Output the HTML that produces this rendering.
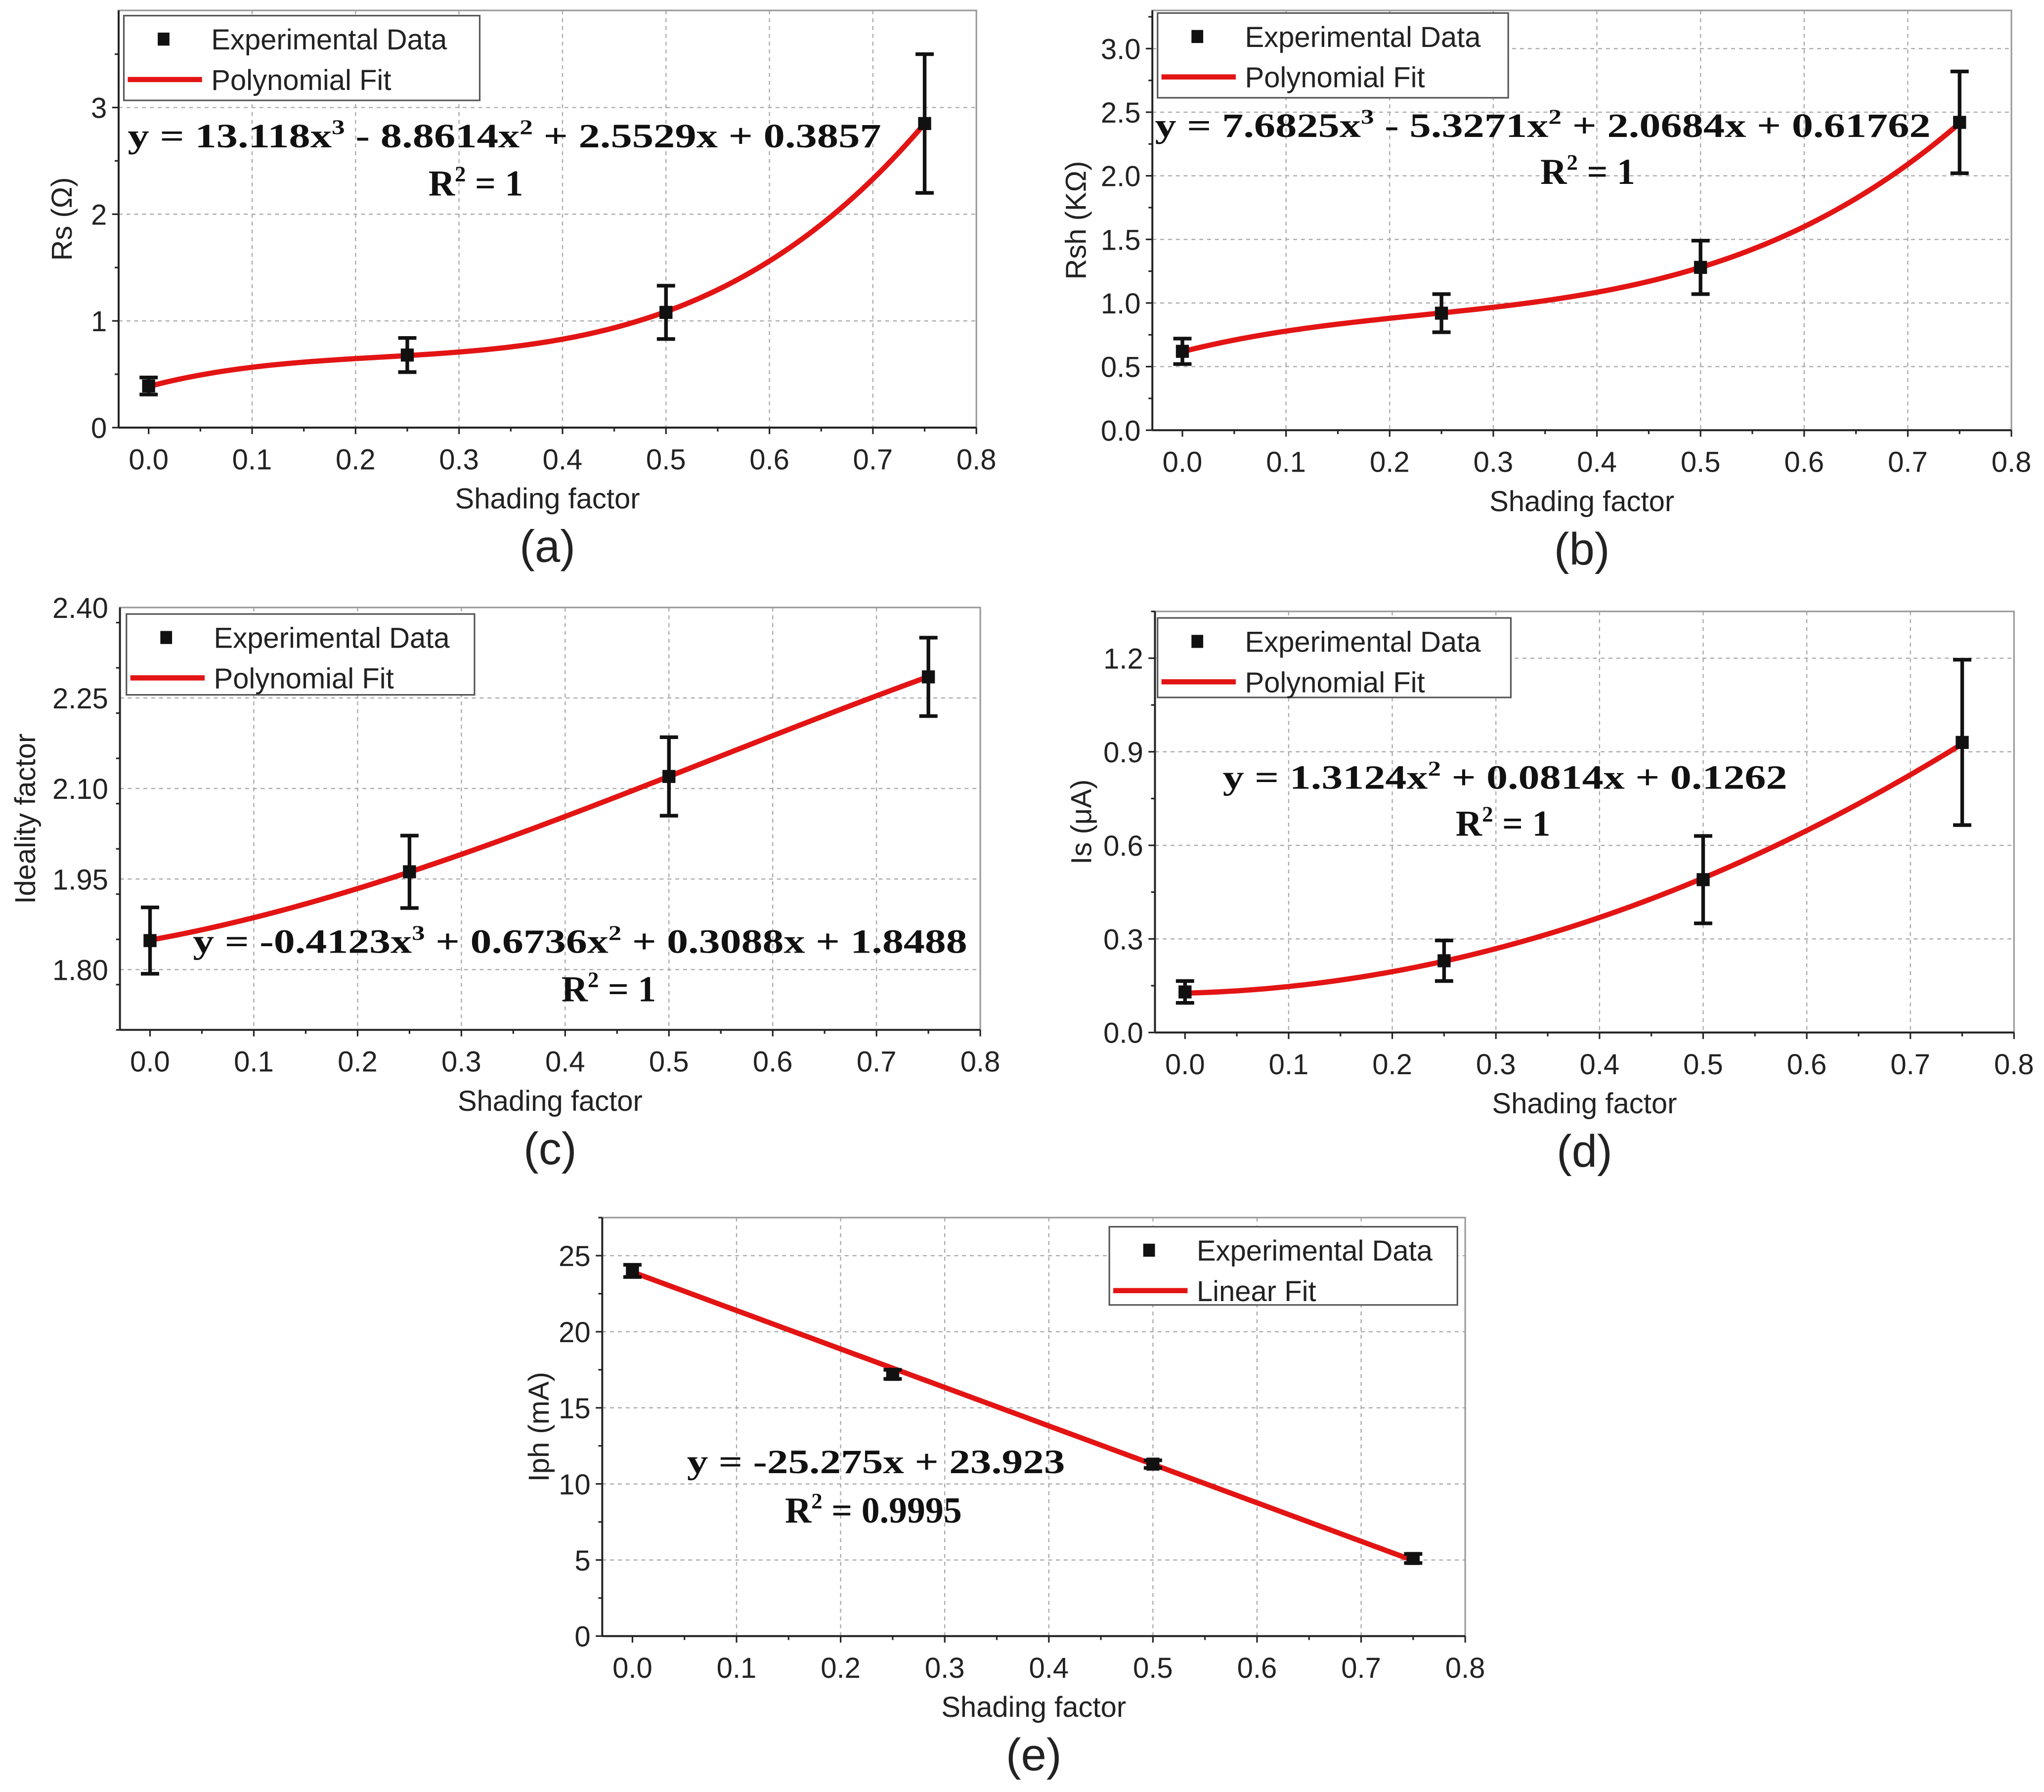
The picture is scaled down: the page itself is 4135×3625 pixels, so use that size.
<!DOCTYPE html>
<html><head><meta charset="utf-8"><style>
html,body{margin:0;padding:0;background:#fff;}
svg{display:block;}
text{font-family:"Liberation Sans",sans-serif;}
.eq{font-family:"Liberation Serif",serif;font-weight:bold;}
</style></head>
<body>
<svg id="fig" width="4135" height="3625" viewBox="0 0 1568 1374.6" preserveAspectRatio="none" xmlns="http://www.w3.org/2000/svg"></svg>
<script>
// ---- data ----
const xVals = [0, 0.25, 0.5, 0.75];
const aY = [0.39, 0.68, 1.08, 2.85];
const aErr = [0.08, 0.16, 0.25, 0.65];
const aCoef = [0.3857, 2.5529, -8.8614, 13.118];
const aTicks = [0, 1, 2, 3];
const bY = [0.62, 0.92, 1.28, 2.42];
const bErr = [0.1, 0.15, 0.21, 0.4];
const bCoef = [0.61762, 2.0684, -5.3271, 7.6825];
const bTicks = [0.0, 0.5, 1.0, 1.5, 2.0, 2.5, 3.0];
const cY = [1.848, 1.962, 2.12, 2.285];
const cErr = [0.055, 0.06, 0.065, 0.065];
const cCoef = [1.8488, 0.3088, 0.6736, -0.4123];
const cTicks = [1.80, 1.95, 2.10, 2.25, 2.40];
const dY = [0.13, 0.23, 0.49, 0.93];
const dErr = [0.035, 0.065, 0.14, 0.265];
const dCoef = [0.1262, 0.0814, 1.3124];
const dTicks = [0.0, 0.3, 0.6, 0.9, 1.2];
const eY = [24.0, 17.2, 11.3, 5.1];
const eErr = [0.4, 0.3, 0.25, 0.3];
const eCoef = [23.923, -25.275];
const eTicks = [0, 5, 10, 15, 20, 25];
const xTicks = [0, 0.1, 0.2, 0.3, 0.4, 0.5, 0.6, 0.7, 0.8];

const NS = "http://www.w3.org/2000/svg";
const svg = document.getElementById('fig');
function mk(tag, attrs, parent, txt){
  const e = document.createElementNS(NS, tag);
  for (const k in attrs) e.setAttribute(k, attrs[k]);
  if (txt !== undefined) e.textContent = txt;
  (parent || svg).appendChild(e);
  return e;
}

const panels = [
 {id:'a', L:91, R:749, T:8, B:328, ymin:0, ymax:3.91, ys:aY, err:aErr, coef:aCoef, ticks:aTicks, dec:0, minor:0.5,
  ytitle:'Rs (Ω)', ytx:48, leg:[95,12,273,65], fitName:'Polynomial Fit',
  eq:['y = 13.118x','3',' - 8.8614x','2',' + 2.5529x + 0.3857'], eqx:98, eqy:113, eqw:578, r2:'1', r2x:365, r2y:150, lbl:'(a)'},
 {id:'b', L:884, R:1543, T:8, B:330, ymin:0, ymax:3.3, ys:bY, err:bErr, coef:bCoef, ticks:bTicks, dec:1, minor:0.25,
  ytitle:'Rsh (KΩ)', ytx:826, leg:[888,10,269,65], fitName:'Polynomial Fit',
  eq:['y = 7.6825x','3',' - 5.3271x','2',' + 2.0684x + 0.61762'], eqx:886, eqy:105, eqw:595, r2:'1', r2x:1218, r2y:141, lbl:'(b)'},
 {id:'c', L:92, R:752, T:466, B:790, ymin:1.70, ymax:2.40, ys:cY, err:cErr, coef:cCoef, ticks:cTicks, dec:2, minor:0.075,
  ytitle:'Ideality factor', ytx:20, leg:[97,471,267,62], fitName:'Polynomial Fit',
  eq:['y = -0.4123x','3',' + 0.6736x','2',' + 0.3088x + 1.8488'], eqx:148, eqy:731, eqw:594, r2:'1', r2x:467, r2y:768, lbl:'(c)'},
 {id:'d', L:886, R:1545, T:469, B:792, ymin:0, ymax:1.35, ys:dY, err:dErr, coef:dCoef, ticks:dTicks, dec:1, minor:0.15,
  ytitle:'Is (μA)', ytx:830, leg:[888,474,271,61], fitName:'Polynomial Fit',
  eq:['y = 1.3124x','2',' + 0.0814x + 0.1262'], eqx:938, eqy:605, eqw:433, r2:'1', r2x:1153, r2y:641, lbl:'(d)'},
 {id:'e', L:462, R:1124, T:934, B:1255, ymin:0, ymax:27.5, ys:eY, err:eErr, coef:eCoef, ticks:eTicks, dec:0, minor:2.5,
  ytitle:'Iph (mA)', ytx:414, leg:[851,941,267,60], fitName:'Linear Fit',
  eq:['y = -25.275x + 23.923'], eqx:527, eqy:1130, eqw:290, r2:'0.9995', r2x:670, r2y:1168, lbl:'(e)'}
];

panels.forEach(p => {
  const g = mk('g', {});
  
  
  const xmin = -0.029, xmax = 0.8;
  const sx = v => p.L + (v - xmin) / (xmax - xmin) * (p.R - p.L);
  const sy = v => p.B - (v - p.ymin) / (p.ymax - p.ymin) * (p.B - p.T);
  xTicks.forEach(t => { if (t > 0 && t < 0.8) { const l = mk('line', {x1:sx(t), x2:sx(t), y1:p.T, y2:p.B, stroke:'#aaa', 'stroke-width':0.9, 'stroke-dasharray':'3,3'}, g);
      } });
  p.ticks.forEach(t => { const yy = sy(t); if (yy > p.T + 1 && yy < p.B - 1) { const l = mk('line', {x1:p.L, x2:p.R, y1:yy, y2:yy, stroke:'#aaa', 'stroke-width':0.9, 'stroke-dasharray':'3,3'}, g);
      } });
  const fr = mk('rect', {x:p.L, y:p.T, width:p.R - p.L, height:p.B - p.T, fill:'none', stroke:'#999', 'stroke-width':1.2}, g);
   
  mk('line', {x1:p.L, x2:p.R, y1:p.B, y2:p.B, stroke:'#222', 'stroke-width':1.5}, g);
  mk('line', {x1:p.L, x2:p.L, y1:p.T, y2:p.B, stroke:'#222', 'stroke-width':1.5}, g);
  for (let i = 0; i <= 16; i++) {
    const v = i * 0.05, xx = sx(v);
    mk('line', {x1:xx, x2:xx, y1:p.B, y2:p.B + (i % 2 ? 3 : 5), stroke:'#222', 'stroke-width':1.2}, g);
  }
  xTicks.forEach(t => {
    const tx = mk('text', {x:sx(t), y:p.B + 32, 'font-size':22, 'text-anchor':'middle', fill:'#222'}, g, t.toFixed(1));
     
  });
  for (let v = p.ymin; v <= p.ymax + 1e-9; v += p.minor) {
    const yy = sy(v);
    if (yy < p.T - 0.5) continue;
    const major = p.ticks.some(t => Math.abs(t - v) < 1e-6);
    mk('line', {x1:p.L - (major ? 5 : 3), x2:p.L, y1:yy, y2:yy, stroke:'#222', 'stroke-width':1.2}, g);
  }
  p.ticks.forEach(t => {
    const tx = mk('text', {x:p.L - 9, y:sy(t) + 8, 'font-size':22, 'text-anchor':'end', fill:'#222'}, g, t.toFixed(p.dec));
     
  });
  const cx = (p.L + p.R) / 2;
  const xt = mk('text', {x:cx, y:p.B + 62, 'font-size':22, 'text-anchor':'middle', fill:'#222'}, g, 'Shading factor');
   
  const cy = (p.T + p.B) / 2;
  const yt = mk('text', {x:p.ytx, y:cy, 'font-size':22, 'text-anchor':'middle', fill:'#222', transform:`rotate(-90 ${p.ytx} ${cy})`, dy:7}, g, p.ytitle);
   
  const pl = mk('text', {x:cx, y:p.B + 103, 'font-size':35, 'text-anchor':'middle', fill:'#222'}, g, p.lbl);
   
  let d = '';
  for (let i = 0; i <= 120; i++) {
    const x = 0.75 * i / 120;
    let y = 0; p.coef.forEach((c, k) => y += c * Math.pow(x, k));
    d += (i ? 'L' : 'M') + sx(x).toFixed(2) + ' ' + sy(y).toFixed(2);
  }
  const fit = mk('path', {d:d, fill:'none', stroke:'#e31414', 'stroke-width':4}, g);
   
  xVals.forEach((x, i) => {
    const y = p.ys[i], e = p.err[i], px = sx(x);
    const eg = mk('g', {stroke:'#111', 'stroke-width':2.8}, g);
     
    mk('line', {x1:px, x2:px, y1:sy(y - e), y2:sy(y + e)}, eg);
    mk('line', {x1:px - 7, x2:px + 7, y1:sy(y - e), y2:sy(y - e)}, eg);
    mk('line', {x1:px - 7, x2:px + 7, y1:sy(y + e), y2:sy(y + e)}, eg);
    const m = mk('rect', {x:px - 5, y:sy(y) - 5, width:10, height:10, fill:'#111'}, g);
     
  });
  const [lx, ly, lw, lh] = p.leg;
  const lg = mk('g', {}, g);
   
  mk('rect', {x:lx, y:ly, width:lw, height:lh, fill:'#fff', stroke:'#555', 'stroke-width':1.2}, lg);
  mk('rect', {x:lx + 26, y:ly + 13, width:9, height:10, fill:'#111'}, lg);
  const l1 = mk('text', {x:lx + 67, y:ly + 26, 'font-size':22, fill:'#222'}, lg, 'Experimental Data');
   
  mk('line', {x1:lx + 3, x2:lx + 60, y1:ly + 49, y2:ly + 49, stroke:'#e31414', 'stroke-width':4}, lg);
  const l2 = mk('text', {x:lx + 67, y:ly + 57, 'font-size':22, fill:'#222'}, lg, p.fitName);
   
  const eq = mk('text', {x:p.eqx, y:p.eqy, 'font-size':26, fill:'#111', class:'eq', textLength:p.eqw, lengthAdjust:'spacingAndGlyphs'}, g);
   
  p.eq.forEach((s, k) => {
    mk('tspan', k % 2 ? {'font-size':16, dy:-10} : (k ? {dy:10} : {}), eq, s);
  });
  const r2 = mk('text', {x:p.r2x, y:p.r2y, 'font-size':28, fill:'#111', class:'eq', 'text-anchor':'middle'}, g);
   
  mk('tspan', {}, r2, 'R');
  mk('tspan', {'font-size':17, dy:-11}, r2, '2');
  mk('tspan', {dy:11}, r2, ' = ' + p.r2);
});
</script>
</body></html>
